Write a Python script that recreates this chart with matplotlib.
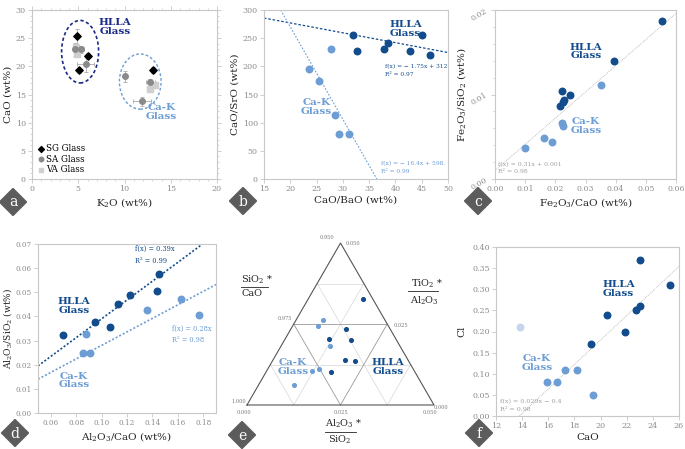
import numpy as np
import matplotlib
matplotlib.use('Agg')
import matplotlib.pyplot as plt
from matplotlib.patches import Ellipse, RegularPolygon
from matplotlib.ticker import MultipleLocator, FormatStrFormatter

OUTPUT_PNG = 'out.png'
W, H = 685, 449

DARK = '#124c8c'
LIGHT = '#6c9dd4'
PALE = '#c5d6ec'
NAVY = '#1b2a86'
TICK_C = '#8c8c8c'
SPINE_C = '#c8c8c8'
FIT_GRAY = '#b0b0b0'

# (a) K2O vs CaO
A_SG_K2O = [4.9, 5.1, 6.0, 13.1]
A_SG_CAO = [25.3, 19.3, 21.9, 19.4]
A_SG_XERR = [0.2, 0.2, 0.3, 0.2]
A_SG_YERR = [1.3, 0.4, 0.5, 0.5]
A_SA_K2O = [4.7, 5.3, 5.8, 10.1, 11.9, 12.8]
A_SA_CAO = [23.0, 23.0, 20.5, 18.2, 13.8, 17.3]
A_SA_XERR = [0.3, 0.3, 0.9, 0.2, 1.0, 0.5]
A_SA_YERR = [1.1, 0.6, 1.5, 0.9, 0.8, 0.5]
A_VA_K2O = [4.9, 4.8, 12.8, 13.3]
A_VA_CAO = [22.2, 23.4, 15.9, 16.7]

# (b) CaO/BaO vs CaO/SrO
B_HLLA_X = [32.0, 32.6, 37.8, 38.6, 42.8, 45.0, 46.6]
B_HLLA_Y = [256, 228, 230, 242, 227, 256, 220]
B_CAK_X = [27.7, 23.5, 25.5, 28.5, 29.3, 31.2]
B_CAK_Y = [230, 195, 174, 114, 80, 80]
B_FIT_HLLA = (-1.75, 312)
B_FIT_CAK = (-16.4, 598)

# (c) Fe2O3/CaO vs Fe2O3/SiO2
C_HLLA_X = [0.0554, 0.0396, 0.0222, 0.0249, 0.0229, 0.0225, 0.0214]
C_HLLA_Y = [0.0187, 0.0140, 0.0104, 0.0099, 0.0093, 0.0091, 0.0086]
C_CAK_X = [0.0352, 0.0222, 0.0227, 0.0163, 0.0190, 0.0099]
C_CAK_Y = [0.0111, 0.0066, 0.0063, 0.0048, 0.0044, 0.0037]
C_FIT = (0.31, 0.001)

# (d) Al2O3/CaO vs Al2O3/SiO2
D_HLLA_X = [0.070, 0.0946, 0.107, 0.113, 0.122, 0.1436, 0.1451]
D_HLLA_Y = [0.0323, 0.0376, 0.0358, 0.0453, 0.0490, 0.0504, 0.0576]
D_CAK_X = [0.088, 0.0856, 0.0907, 0.1358, 0.1627, 0.1768]
D_CAK_Y = [0.0326, 0.0250, 0.0249, 0.0425, 0.0474, 0.0406]
D_FIT_HLLA = 0.39
D_FIT_CAK = 0.28

# (e) ternary: Al2O3/SiO2 (b) and TiO2/Al2O3 (c); SiO2/CaO = 1 - b - c
E_HLLA_B = [0.0146, 0.0147, 0.0118, 0.0177, 0.0192, 0.0221, 0.0174]
E_HLLA_C = [0.0326, 0.0235, 0.0205, 0.0202, 0.0138, 0.0136, 0.0102]
E_CAK_B = [0.0073, 0.0069, 0.0131, 0.0137, 0.0122, 0.0095]
E_CAK_C = [0.0262, 0.0243, 0.0183, 0.0110, 0.0106, 0.0063]

# (f) CaO vs Cl
F_HLLA_X = [23.0, 25.3, 23.0, 22.7, 20.5, 21.9, 19.3]
F_HLLA_Y = [0.37, 0.31, 0.26, 0.25, 0.24, 0.20, 0.17]
F_CAK_X = [18.2, 17.3, 16.7, 15.9, 19.4]
F_CAK_Y = [0.11, 0.11, 0.08, 0.08, 0.05]
F_OUT_X = [13.8]
F_OUT_Y = [0.21]
F_FIT = (0.029, -0.4)


def px_axes(fig, left, right, top, bottom):
    return fig.add_axes([left / W, 1 - bottom / H, (right - left) / W, (bottom - top) / H])


def style(ax, size=5.8):
    for s in ax.spines.values():
        s.set_color(SPINE_C)
        s.set_linewidth(0.8)
    ax.tick_params(colors=SPINE_C, labelcolor=TICK_C, labelsize=size, length=3, width=0.6, pad=1.5)
    ax.tick_params(which='minor', colors=SPINE_C, length=1.5, width=0.5)


def glass_labels(ax, hlla_xy, cak_xy, hlla_c=DARK, cak_c=LIGHT, size=7.5):
    ax.text(*hlla_xy, 'HLLA\nGlass', color=hlla_c, fontsize=size, fontweight='bold',
            ha='center', va='center', linespacing=0.95)
    ax.text(*cak_xy, 'Ca-K\nGlass', color=cak_c, fontsize=size, fontweight='bold',
            ha='center', va='center', linespacing=0.95)


def tern_xy(b, c):
    bf = np.asarray(b) / 0.05
    cf = np.asarray(c) / 0.05
    return bf + cf * 0.5, cf * np.sqrt(3) / 2


def main():
    plt.rcParams['font.family'] = 'DejaVu Serif'
    plt.rcParams['mathtext.fontset'] = 'dejavuserif'
    plt.rcParams['mathtext.default'] = 'regular'
    plt.rcParams['axes.labelsize'] = 7.5
    plt.rcParams['axes.labelcolor'] = '#222222'

    fig = plt.figure(figsize=(W / 100, H / 100), dpi=100)

    # ---- a
    ax = px_axes(fig, 32, 217, 10, 179)
    style(ax)
    ax.errorbar(A_SA_K2O, A_SA_CAO, xerr=A_SA_XERR, yerr=A_SA_YERR, fmt='none',
                ecolor='#a8a8a8', elinewidth=0.6, capsize=1.2, capthick=0.6, zorder=1)
    ax.errorbar(A_SG_K2O, A_SG_CAO, xerr=A_SG_XERR, yerr=A_SG_YERR, fmt='none',
                ecolor='#a8a8a8', elinewidth=0.6, capsize=1.2, capthick=0.6, zorder=1)
    ax.scatter(A_VA_K2O, A_VA_CAO, marker='s', s=14, color='#cfcfcf', label='VA Glass', zorder=2)
    ax.scatter(A_SA_K2O, A_SA_CAO, marker='o', s=16, color='#8a8a8a', label='SA Glass', zorder=3)
    ax.scatter(A_SG_K2O, A_SG_CAO, marker='D', s=14, color='black', label='SG Glass', zorder=4)
    ax.add_patch(Ellipse((5.2, 22.6), 4.0, 11.1, fill=False, ec=NAVY, lw=1.2, ls=(0, (2, 1.5))))
    ax.add_patch(Ellipse((11.7, 17.3), 4.5, 9.8, fill=False, ec=LIGHT, lw=1.0, ls=(0, (2, 1.5))))
    ax.text(9.0, 27.0, 'HLLA\nGlass', color=NAVY, fontsize=7.5, fontweight='bold',
            ha='center', va='center', linespacing=0.95)
    ax.text(14.0, 11.9, 'Ca-K\nGlass', color=LIGHT, fontsize=7.5, fontweight='bold',
            ha='center', va='center', linespacing=0.95)
    h, l = ax.get_legend_handles_labels()
    ax.legend(h[::-1], l[::-1], loc='lower left', frameon=False, fontsize=6.2,
              handletextpad=0.0, labelspacing=0.15, borderaxespad=0.4, handlelength=1.0,
              borderpad=0.2, markerscale=0.8)
    ax.set_xlim(0, 20)
    ax.set_ylim(0, 30)
    ax.xaxis.set_major_locator(MultipleLocator(5))
    ax.yaxis.set_major_locator(MultipleLocator(5))
    ax.xaxis.set_minor_locator(MultipleLocator(1))
    ax.yaxis.set_minor_locator(MultipleLocator(1))
    ax.tick_params(which='both', top=True, right=True)
    ax.set_xlabel('K$_2$O (wt%)', labelpad=2)
    ax.set_ylabel('CaO (wt%)', labelpad=2)

    # ---- b
    ax = px_axes(fig, 264, 448, 10, 179)
    style(ax)
    ax.axline((0, B_FIT_HLLA[1]), slope=B_FIT_HLLA[0], color=DARK, lw=0.9, ls=(0, (2, 1.5)))
    ax.axline((0, B_FIT_CAK[1]), slope=B_FIT_CAK[0], color=LIGHT, lw=0.8, ls=(0, (1.5, 1.5)))
    ax.scatter(B_HLLA_X, B_HLLA_Y, s=22, color=DARK, zorder=3)
    ax.scatter(B_CAK_X, B_CAK_Y, s=22, color=LIGHT, zorder=3)
    ax.text(38.0, 193, 'f(x) = − 1.75x + 312.\nR² = 0.97', color=DARK, fontsize=4.2,
            va='center', ha='left', linespacing=1.7, clip_on=True)
    ax.text(37.2, 21, 'f(x) = − 16.4x + 598.\nR² = 0.99', color=LIGHT, fontsize=4.2,
            va='center', ha='left', linespacing=1.7, clip_on=True)
    glass_labels(ax, (41.9, 266), (25.0, 128))
    ax.set_xlim(15, 50)
    ax.set_ylim(0, 300)
    ax.xaxis.set_major_locator(MultipleLocator(5))
    ax.yaxis.set_major_locator(MultipleLocator(50))
    ax.set_xlabel('CaO/BaO (wt%)', labelpad=2)
    ax.set_ylabel('CaO/SrO (wt%)', labelpad=2)

    # ---- c
    ax = px_axes(fig, 495, 676, 10, 179)
    style(ax, size=5.6)
    ax.axline((0, C_FIT[1]), slope=C_FIT[0], color=FIT_GRAY, lw=0.6, ls=(0, (1, 1.2)))
    ax.scatter(C_HLLA_X, C_HLLA_Y, s=22, color=DARK, zorder=3)
    ax.scatter(C_CAK_X, C_CAK_Y, s=22, color=LIGHT, zorder=3)
    ax.text(0.0009, 0.0013, 'f(x) = 0.31x + 0.001\nR² = 0.98', color='#a0a0a0', fontsize=4.4,
            va='center', ha='left', linespacing=1.7)
    glass_labels(ax, (0.0302, 0.0151), (0.0302, 0.0063))
    ax.set_xlim(0, 0.06)
    ax.set_ylim(0, 0.02)
    ax.xaxis.set_major_locator(MultipleLocator(0.01))
    ax.xaxis.set_major_formatter(FormatStrFormatter('%.2f'))
    ax.set_yticks([0, 0.01, 0.02])
    ax.set_yticklabels(['0.00', '0.01', '0.02'], rotation=30)
    ax.yaxis.set_minor_locator(MultipleLocator(0.002))
    ax.set_xlabel('Fe$_2$O$_3$/CaO (wt%)', labelpad=2)
    ax.set_ylabel('Fe$_2$O$_3$/SiO$_2$ (wt%)', labelpad=1)

    # ---- d
    ax = px_axes(fig, 38, 216, 244, 413)
    style(ax, size=5.2)
    ax.axline((0, 0), slope=D_FIT_HLLA, color=DARK, lw=1.2, ls=(0, (1.2, 1.2)))
    ax.axline((0, 0), slope=D_FIT_CAK, color=LIGHT, lw=1.2, ls=(0, (1.2, 1.2)))
    ax.scatter(D_HLLA_X, D_HLLA_Y, s=22, color=DARK, zorder=3)
    ax.scatter(D_CAK_X, D_CAK_Y, s=22, color=LIGHT, zorder=3)
    ax.text(0.126, 0.0654, 'f(x) = 0.39x\nR² = 0.99', color=DARK, fontsize=4.8,
            va='center', ha='left', linespacing=1.6)
    ax.text(0.1557, 0.0326, 'f(x) = 0.28x\nR² = 0.98', color=LIGHT, fontsize=4.8,
            va='center', ha='left', linespacing=1.6)
    glass_labels(ax, (0.0784, 0.0442), (0.0784, 0.0134))
    ax.set_xlim(0.05, 0.19)
    ax.set_ylim(0, 0.07)
    ax.xaxis.set_major_locator(MultipleLocator(0.02))
    ax.xaxis.set_major_formatter(FormatStrFormatter('%.2f'))
    ax.yaxis.set_major_locator(MultipleLocator(0.01))
    ax.yaxis.set_major_formatter(FormatStrFormatter('%.2f'))
    ax.set_xlabel('Al$_2$O$_3$/CaO (wt%)', labelpad=2)
    ax.set_ylabel('Al$_2$O$_3$/SiO$_2$ (wt%)', fontsize=6.6)
    ax.yaxis.set_label_coords(-24 / 178, 0.5)

    # ---- e (ternary)
    ax = px_axes(fig, 225, 460, 222, 449)
    ax.set_xlim((225 - 247) / 187, (460 - 247) / 187)
    ax.set_ylim((405 - 449) / 187, (405 - 222) / 187)
    ax.axis('off')
    for k in (1, 2, 3):
        f = k / 4
        col, lw = ('#9a9a9a', 0.6) if k == 2 else ('#d6d6d6', 0.5)
        segs = [((0, f), (1 - f, f)),          # constant TiO2/Al2O3
                ((f, 0), (f, 1 - f)),          # constant Al2O3/SiO2
                ((1 - f, 0), (0, 1 - f))]      # constant SiO2/CaO
        for (b0, c0), (b1, c1) in segs:
            x, y = tern_xy([b0 * 0.05, b1 * 0.05], [c0 * 0.05, c1 * 0.05])
            ax.plot(x, y, color=col, lw=lw, zorder=1)
    tx, ty = tern_xy([0, 0.05, 0, 0], [0, 0, 0.05, 0])
    ax.plot(tx, ty, color='#555555', lw=0.8, zorder=2)
    x, y = tern_xy(E_HLLA_B, E_HLLA_C)
    ax.scatter(x, y, s=7, color=DARK, zorder=3)
    x, y = tern_xy(E_CAK_B, E_CAK_C)
    ax.scatter(x, y, s=7, color=LIGHT, zorder=3)
    tk = dict(fontsize=3.6, color='#777777', ha='center', va='center')
    for xx, yy, s in [(0.428, 0.898, '0.950'), (0.564, 0.861, '0.050'),
                      (0.203, 0.46, '0.975'), (0.822, 0.424, '0.025'),
                      (-0.046, 0.021, '1.000'), (1.037, -0.014, '0.000'),
                      (-0.018, -0.041, '0.000'), (0.501, -0.041, '0.025'),
                      (0.977, -0.041, '0.050')]:
        ax.text(xx, yy, s, **tk)
    lab = dict(fontsize=7, color='#222222', ha='center', va='center')
    ax.text(0.052, 0.672, 'SiO$_2$ *', **lab)
    ax.plot([-0.032, 0.112], [0.633, 0.633], color='#222222', lw=0.6)
    ax.text(0.028, 0.594, 'CaO', **lab)
    ax.text(0.961, 0.647, 'TiO$_2$ *', **lab)
    ax.plot([0.859, 1.023], [0.610, 0.610], color='#222222', lw=0.6)
    ax.text(0.947, 0.558, 'Al$_2$O$_3$', **lab)
    ax.text(0.515, -0.098, 'Al$_2$O$_3$ *', **lab)
    ax.plot([0.417, 0.581], [-0.143, -0.143], color='#222222', lw=0.6)
    ax.text(0.497, -0.187, 'SiO$_2$', **lab)
    glass_labels(ax, (0.754, 0.203), (0.246, 0.203))

    # ---- f
    ax = px_axes(fig, 496, 679, 247, 416)
    style(ax)
    ax.axline((0, F_FIT[1]), slope=F_FIT[0], color=FIT_GRAY, lw=0.6, ls=(0, (1, 1.2)))
    ax.scatter(F_OUT_X, F_OUT_Y, s=22, color=PALE, zorder=3)
    ax.scatter(F_CAK_X, F_CAK_Y, s=22, color=LIGHT, zorder=3)
    ax.scatter(F_HLLA_X, F_HLLA_Y, s=22, color=DARK, zorder=3)
    ax.text(12.3, 0.025, 'f(x) = 0.029x − 0.4\nR² = 0.98', color='#a0a0a0', fontsize=4.6,
            va='center', ha='left', linespacing=1.6)
    glass_labels(ax, (21.37, 0.30), (15.13, 0.126))
    ax.set_xlim(12, 26)
    ax.set_ylim(0, 0.40)
    ax.xaxis.set_major_locator(MultipleLocator(2))
    ax.yaxis.set_major_locator(MultipleLocator(0.05))
    ax.yaxis.set_major_formatter(FormatStrFormatter('%.2f'))
    ax.set_xlabel('CaO', labelpad=2)
    ax.set_ylabel('Cl', labelpad=4)

    # panel badges
    ov = fig.add_axes([0, 0, 1, 1], zorder=10)
    ov.set_xlim(0, W)
    ov.set_ylim(H, 0)
    ov.axis('off')
    for (cx, cy), letter in zip([(13, 202), (243, 201), (478, 201), (15, 433), (242, 435), (479, 433)],
                                'abcdef'):
        ov.add_patch(RegularPolygon((cx, cy), numVertices=4, radius=13.5, color='#5c5c5c'))
        ov.text(cx, cy + 0.5, letter, color='white', fontsize=10, ha='center', va='center')

    fig.savefig(OUTPUT_PNG, dpi=100)
    print(f'Saved {OUTPUT_PNG}')


if __name__ == '__main__':
    main()
